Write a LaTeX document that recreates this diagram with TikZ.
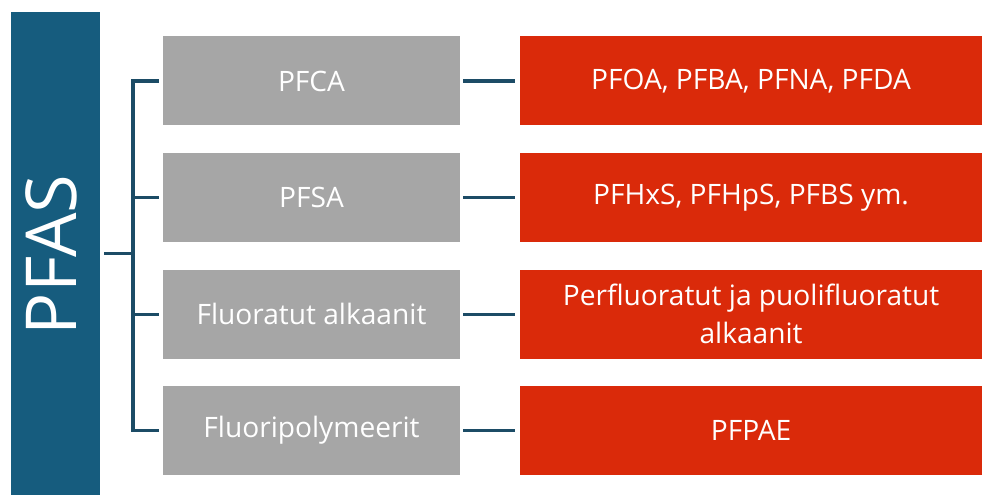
\documentclass[tikz,border=0pt]{standalone}
\definecolor{pfasBlue}{RGB}{22, 92, 126}
\definecolor{pfasLine}{RGB}{28, 76, 102}
\definecolor{pfasGray}{RGB}{166, 166, 166}
\definecolor{pfasRed}{RGB}{218, 42, 10}
\usepackage{fontspec}
\setmainfont{Open Sans}
\usetikzlibrary{positioning}

\begin{document}
\begin{tikzpicture}[every node/.style={font=\fontsize{20}{27}\selectfont, text=white, inner sep=0pt},
  groupbox/.style={fill=pfasGray, minimum width=7.425cm, minimum height=2.225cm},
  itembox/.style={fill=pfasRed, minimum width=11.575cm, minimum height=2.225cm, align=center},
  link/.style={pfasLine, line width=2.2pt}]
  \useasboundingbox (0,0) rectangle (24.55,12.375);
  \node[fill=pfasBlue, minimum width=2.225cm, minimum height=12.075cm] (pfas) at (1.3875,6.0375) {};
  \node[rotate=90, font=\fontsize{50}{60}\selectfont] (pfasLabel) at (1.275,6.0) {PFAS};
  \node[groupbox] (pfca) at (7.7875,10.35) {PFCA};
  \node[groupbox, below=0.675cm of pfca] (pfsa) {PFSA};
  \node[groupbox, below=0.675cm of pfsa] (alkaanit) {Fluoratut alkaanit};
  \node[groupbox, below=0.675cm of alkaanit] (polymeerit) {Fluoripolymeerit};
  \node[itembox, right=1.475cm of pfca] (pfoa) {PFOA, PFBA, PFNA, PFDA};
  \node[itembox, right=1.475cm of pfsa] (pfhxs) {PFHxS, PFHpS, PFBS ym.};
  \node[itembox, right=1.475cm of alkaanit] (perfluor) {Perfluoratut ja puolifluoratut\\alkaanit};
  \node[itembox, right=1.475cm of polymeerit] (pfpae) {PFPAE};
  \coordinate (bus) at (3.325,0);
  \draw[link] ([xshift=-0.1cm]pfca.west) -- (pfca.west -| bus) -- (polymeerit.west -| bus) -- ([xshift=-0.1cm]polymeerit.west);
  \foreach \n in {pfsa, alkaanit}
    \draw[link] ([xshift=-0.1cm]\n.west) -- (\n.west -| bus);
  \draw[link] ([xshift=0.1cm]pfas.east) -- (pfas.east -| bus);
  \foreach \a/\b in {pfca/pfoa, pfsa/pfhxs, alkaanit/perfluor, polymeerit/pfpae}
    \draw[link, shorten <=0.075cm, shorten >=0.1cm] (\a) -- (\b);
\end{tikzpicture}
\end{document}
